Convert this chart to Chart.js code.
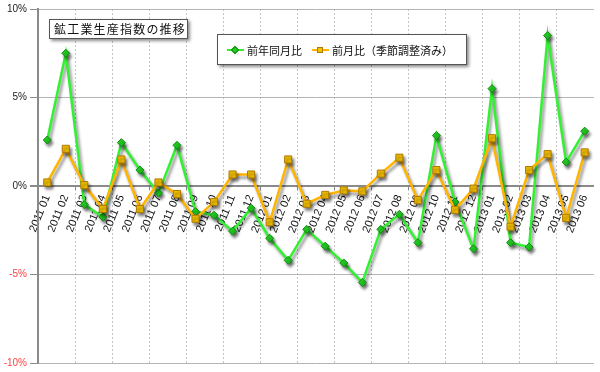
<!DOCTYPE html>
<html>
<head>
<meta charset="utf-8">
<script src="https://cdn.jsdelivr.net/npm/chart.js@4/dist/chart.umd.min.js"></script>
<style>
  body { margin: 0; background: #fff; }
  #wrap { position: relative; width: 600px; height: 372px; }
  .box {
    position: absolute; background: #fff; border: 1px solid #555;
    box-shadow: 2px 2px 3px rgba(0,0,0,0.45);
    font-family: "Noto Sans CJK JP", sans-serif; color: #111; box-sizing: border-box;
  }
  #title { left: 49px; top: 19px; width: 139px; height: 20px; font-size: 12px; line-height: 18px; letter-spacing: 1.2px; padding-left: 4px; }
  #legend { left: 217px; top: 34px; width: 250px; height: 31px; font-size: 11px; display: flex; align-items: center; padding-left: 9px; }
  .item { display: flex; align-items: center; margin-right: 10px; }
  .mk { position: relative; width: 17px; height: 10px; margin-right: 3px; }
  .mk .ln { position: absolute; left: 0; right: 0; top: 4px; height: 2px; }
  .mk .pt { position: absolute; left: 5px; top: 2px; width: 6px; height: 6px; box-sizing: border-box; }
</style>
</head>
<body>
<div id="wrap">
  <canvas id="chart" width="600" height="372"></canvas>
  <div id="title" class="box">鉱工業生産指数の推移</div>
  <div id="legend" class="box"></div>
</div>
<script>
// categories (year month)
const months = [
  '2011 01', '2011 02', '2011 03', '2011 04', '2011 05', '2011 06',
  '2011 07', '2011 08', '2011 09', '2011 10', '2011 11', '2011 12',
  '2012 01', '2012 02', '2012 03', '2012 04', '2012 05', '2012 06',
  '2012 07', '2012 08', '2012 09', '2012 10', '2012 11', '2012 12',
  '2013 01', '2013 02', '2013 03', '2013 04', '2013 05', '2013 06'
];

// 前年同月比 (%)
const yoy = [
  2.6, 7.5, -1.05, -1.75, 2.45, 0.9, -0.4, 2.3, -1.45, -1.65, -2.55, -1.25,
  -2.95, -4.2, -2.45, -3.4, -4.35, -5.45, -2.45, -1.6, -3.2, 2.85, -0.9, -3.55,
  5.5, -3.2, -3.45, 8.5, 1.35, 3.1
];

// 前月比（季節調整済み） (%)
const mom = [
  0.2, 2.1, 0.05, -1.3, 1.5, -1.3, 0.2, -0.45, -1.85, -0.9, 0.65, 0.65,
  -2.05, 1.5, -1.0, -0.5, -0.25, -0.3, 0.7, 1.6, -0.8, 0.9, -1.35, -0.15,
  2.7, -2.3, 0.9, 1.8, -1.8, 1.9
];

const seriesNames = ['前年同月比', '前月比（季節調整済み）'];
const yTicks = [-10, -5, 0, 5, 10];

const green = '#33f033';
const gold = '#ffb400';

// drop shadow under the lines
const shadowPlugin = {
  id: 'lineShadow',
  beforeDatasetsDraw(chart) {
    const ctx = chart.ctx;
    ctx.save();
    ctx.shadowColor = 'rgba(0,0,0,0.45)';
    ctx.shadowOffsetX = 2;
    ctx.shadowOffsetY = 3;
    ctx.shadowBlur = 3;
  },
  afterDatasetsDraw(chart) {
    chart.ctx.restore();
  }
};

const chart = new Chart(document.getElementById('chart'), {
  type: 'line',
  data: {
    labels: months,
    datasets: [
      {
        label: seriesNames[0],
        data: yoy,
        borderColor: green,
        borderWidth: 2.5,
        pointStyle: 'rectRot',
        pointRadius: 4,
        pointBackgroundColor: '#22cc22',
        pointBorderColor: '#118811',
        pointBorderWidth: 1,
        tension: 0,
        order: 1
      },
      {
        label: seriesNames[1],
        data: mom,
        borderColor: gold,
        borderWidth: 2.5,
        pointStyle: 'rect',
        pointRadius: 5,
        pointBackgroundColor: '#f2c000',
        pointBorderColor: '#b07800',
        pointBorderWidth: 1,
        tension: 0,
        order: 0
      }
    ]
  },
  options: {
    responsive: false,
    animation: false,
    layout: { padding: { top: 7, right: 2, bottom: 8, left: 0 } },
    plugins: { legend: { display: false }, tooltip: { enabled: false } },
    scales: {
      x: {
        position: { y: 0 },
        offset: true,
        border: { display: false, dash: [2, 2] },
        grid: {
          offset: true,
          color: c => (c.index > 0 && c.index % 2 === 0) ? '#c4c4c4' : 'rgba(0,0,0,0)',
          tickColor: c => (c.index > 0 && c.index % 2 === 0) ? '#888' : 'rgba(0,0,0,0)',
          tickLength: 4,
          lineWidth: 1
        },
        ticks: {
          autoSkip: false,
          minRotation: 68,
          maxRotation: 68,
          padding: 3,
          color: '#111',
          font: { family: 'Liberation Sans, Arial, sans-serif', size: 11 }
        }
      },
      y: {
        min: -10,
        max: 10,
        afterFit: s => { s.width = 38; },
        afterBuildTicks: s => { s.ticks = yTicks.map(v => ({ value: v })); },
        border: { display: true, color: '#8a8a8a', width: 2 },
        grid: {
          color: c => c.tick && c.tick.value === 0 ? '#8a8a8a' : '#b4b4b4',
          lineWidth: c => c.tick && c.tick.value === 0 ? 2 : 1,
          tickColor: '#8a8a8a',
          tickLength: 8
        },
        ticks: {
          padding: 3,
          callback: v => v + '%',
          color: c => c.tick.value < 0 ? '#ff4040' : '#222',
          font: { family: 'Liberation Sans, Arial, sans-serif', size: 10 }
        }
      }
    }
  },
  plugins: [shadowPlugin]
});

// legend built from the datasets
const legend = document.getElementById('legend');
chart.data.datasets.forEach((ds, i) => {
  const item = document.createElement('div');
  item.className = 'item';
  const mk = document.createElement('div');
  mk.className = 'mk';
  const ln = document.createElement('div');
  ln.className = 'ln';
  ln.style.background = ds.borderColor;
  const pt = document.createElement('div');
  pt.className = 'pt';
  pt.style.background = ds.pointBackgroundColor;
  pt.style.border = '1px solid ' + ds.pointBorderColor;
  if (ds.pointStyle === 'rectRot') pt.style.transform = 'rotate(45deg)';
  mk.appendChild(ln);
  mk.appendChild(pt);
  const txt = document.createElement('span');
  txt.textContent = ds.label;
  item.appendChild(mk);
  item.appendChild(txt);
  legend.appendChild(item);
});
</script>
</body>
</html>
